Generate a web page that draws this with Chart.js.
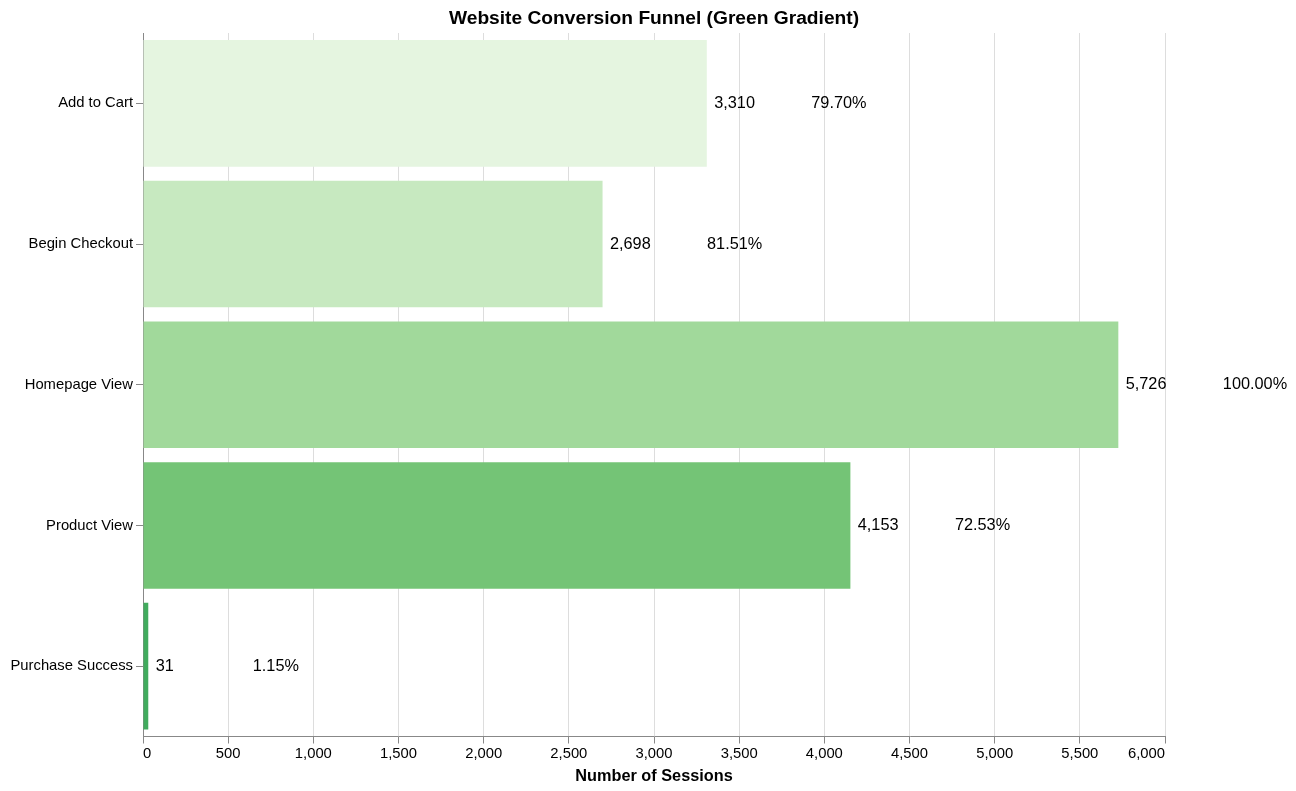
<!DOCTYPE html>
<html>
<head>
<meta charset="utf-8">
<script src="https://cdn.jsdelivr.net/npm/chart.js@4.4.1/dist/chart.umd.min.js"></script>
<style>
  html, body { margin: 0; padding: 0; background: #ffffff; }
  #wrap { width: 1296px; height: 791px; position: relative; }
</style>
</head>
<body>
<div id="wrap"><canvas id="c" width="1296" height="791"></canvas></div>
<script>
const categories = ["Add to Cart", "Begin Checkout", "Homepage View", "Product View", "Purchase Success"];
const sessions = [3310, 2698, 5726, 4153, 31];
const conversionPct = [79.70, 81.51, 100.00, 72.53, 1.15];
const barColors = ["#e5f5e0", "#c7e9c0", "#a1d99b", "#74c476", "#41ab5d"];
const xTickMin = 0, xTickMax = 6000, xTickStep = 500;
const chartTitle = "Website Conversion Funnel (Green Gradient)";

const FONT = "'Liberation Sans', Arial, Helvetica, sans-serif";
const fmt = new Intl.NumberFormat('en-US');

const valueLabels = {
  id: 'valueLabels',
  afterDatasetsDraw(chart) {
    const ctx = chart.ctx;
    const meta = chart.getDatasetMeta(0);
    ctx.save();
    ctx.font = "16.3px " + FONT;
    ctx.fillStyle = "#000";
    ctx.textAlign = "left";
    ctx.textBaseline = "middle";
    meta.data.forEach((bar, i) => {
      ctx.fillText(fmt.format(sessions[i]), bar.x + 7.4, bar.y);
      ctx.fillText(conversionPct[i].toFixed(2) + "%", bar.x + 104.5, bar.y);
    });
    ctx.restore();
  }
};

const plotTitle = {
  id: 'plotTitle',
  afterDraw(chart) {
    const ctx = chart.ctx;
    const a = chart.chartArea;
    ctx.save();
    ctx.font = "bold 19.2px " + FONT;
    ctx.fillStyle = "#000";
    ctx.textAlign = "center";
    ctx.textBaseline = "alphabetic";
    ctx.fillText(chartTitle, (a.left + a.right) / 2, 24);
    ctx.restore();
  }
};

new Chart(document.getElementById('c'), {
  type: 'bar',
  data: {
    labels: categories,
    datasets: [{
      data: sessions,
      backgroundColor: barColors,
      borderWidth: 0,
      barPercentage: 0.9,
      categoryPercentage: 1.0
    }]
  },
  options: {
    indexAxis: 'y',
    responsive: false,
    animation: false,
    devicePixelRatio: 1,
    layout: { padding: { left: 0, right: 131, top: 33, bottom: 0 } },
    plugins: {
      legend: { display: false },
      tooltip: { enabled: false },
      title: { display: false }
    },
    scales: {
      x: {
        type: 'linear',
        min: xTickMin,
        max: xTickMax,
        ticks: {
          stepSize: xTickStep,
          align: 'inner',
          color: "#000",
          padding: 2,
          font: { family: FONT, size: 14.8 },
          callback: (v) => fmt.format(v)
        },
        grid: { color: "#dddddd", tickColor: "#888888", tickLength: 7, lineWidth: 1 },
        border: { color: "#888888", width: 1 },
        title: {
          display: true,
          text: "Number of Sessions",
          color: "#000",
          font: { family: FONT, size: 16.3, weight: 'bold' },
          padding: { top: 0, bottom: 5.2 }
        },
        afterFit(scale) { scale.height = 54.5; }
      },
      y: {
        ticks: {
          color: "#000",
          padding: 3,
          font: { family: FONT, size: 14.8 }
        },
        grid: { offset: false, drawOnChartArea: false, drawTicks: true, tickColor: "#888888", tickLength: 7 },
        border: { color: "#888888", width: 1 },
        afterFit(scale) { scale.width = 143; }
      }
    }
  },
  plugins: [valueLabels, plotTitle]
});
</script>
</body>
</html>
